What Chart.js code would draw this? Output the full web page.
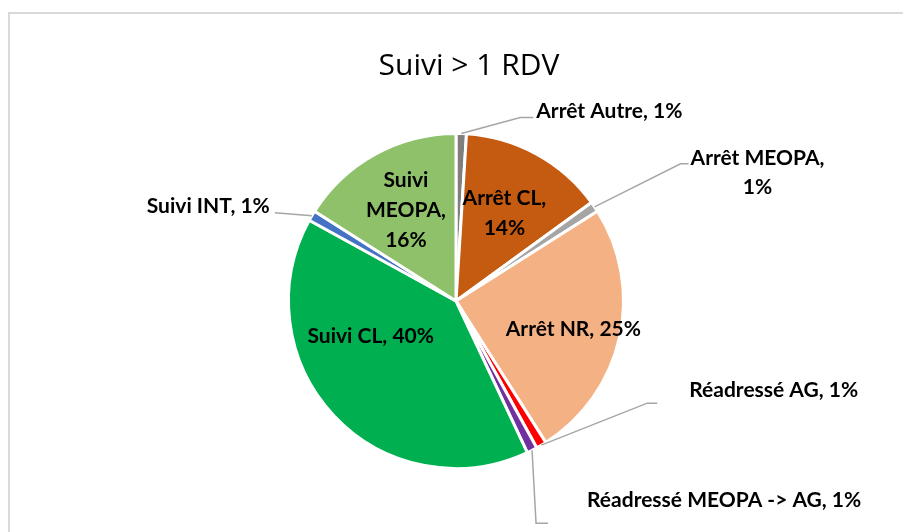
<!DOCTYPE html>
<html>
<head>
<meta charset="utf-8">
<script src="https://cdn.jsdelivr.net/npm/chart.js@4.4.0/dist/chart.umd.min.js"></script>
<style>
  html, body { margin: 0; padding: 0; background: #fff; }
  #wrap { position: relative; width: 903px; height: 532px; overflow: hidden; }
</style>
</head>
<body>
<div id="wrap"><canvas id="myChart" width="903" height="532"></canvas></div>
<script>
// données du graphique
var chartTitle = "Suivi > 1 RDV";
var categories = ["Arrêt Autre", "Arrêt CL", "Arrêt MEOPA", "Arrêt NR", "Réadressé AG",
                  "Réadressé MEOPA -> AG", "Suivi CL", "Suivi INT", "Suivi MEOPA"];
var values = [1, 14, 1, 25, 1, 1, 40, 1, 16];
var colors = ["#7F7F7F", "#C55A11", "#A5A5A5", "#F4B183", "#FF0000",
              "#7030A0", "#00B050", "#4472C4", "#8FC16A"];

// placement des étiquettes (par index de catégorie)
// inside: r = fraction du rayon, dx/dy = décalage ; outside: elbow = décalage depuis le bord, text = décalage depuis le coude
var labelLayout = [
    { out: true, elbow: [59, -16], tail: 13, text: [16, -6], align: "left", lines: null },
    { out: false, r: 0.6, dx: 0, dy: 0, lines: ["{c},", "{p}"] },
    { out: true, elbow: [86, -43], tail: 8, text: [77, -6], align: "center", lines: ["{c},", "{p}"] },
    { out: false, r: 0.62, dx: 16, dy: 6, lines: null },
    { out: true, elbow: [106, -42], tail: 10, text: [42, -13], align: "left", lines: null },
    { out: true, elbow: [4, 73], tail: 12, text: [51, -23], align: "left", lines: null },
    { out: false, r: 0.6, dx: -12, dy: -34, lines: null },
    { out: true, elbow: [-37, -3], tail: 0, text: [-5, -7], align: "right", lines: null },
    { out: false, r: 0.62, dx: 0, dy: 0, lines: ["Suivi", "MEOPA,", "{p}"] }
];

var labelFont = "bold 21px Lato";
var lineHeight = 30;

var total = values.reduce(function (a, b) { return a + b; }, 0);

function labelLines(i) {
    var pct = Math.round(values[i] / total * 100) + "%";
    var lay = labelLayout[i];
    if (!lay.lines) return [categories[i] + ", " + pct];
    return lay.lines.map(function (s) { return s.replace("{c}", categories[i]).replace("{p}", pct); });
}

var labelPlugin = {
    id: "pieLabels",
    beforeDraw: function (chart) {
        var ctx = chart.ctx;
        ctx.save();
        // cadre du graphique
        ctx.strokeStyle = "#D9D9D9";
        ctx.lineWidth = 2;
        ctx.strokeRect(9, 13, 1000, 1000);
        // titre
        ctx.fillStyle = "#000";
        ctx.font = "30px 'Open Sans'";
        ctx.textAlign = "center";
        ctx.textBaseline = "alphabetic";
        ctx.fillText(chartTitle, 469, 75);
        ctx.restore();
    },
    afterDatasetsDraw: function (chart) {
        var ctx = chart.ctx;
        var arcs = chart.getDatasetMeta(0).data;
        ctx.save();
        ctx.font = labelFont;
        ctx.fillStyle = "#000";
        ctx.textBaseline = "middle";
        arcs.forEach(function (arc, i) {
            var p = arc.getProps(["x", "y", "startAngle", "endAngle", "outerRadius"], true);
            var mid = (p.startAngle + p.endAngle) / 2;
            var lay = labelLayout[i];
            var lines = labelLines(i);
            if (!lay.out) {
                var rr = p.outerRadius * lay.r;
                var cx = p.x + Math.cos(mid) * rr + lay.dx;
                var cy = p.y + Math.sin(mid) * rr + lay.dy;
                ctx.textAlign = "center";
                var y0 = cy - (lines.length - 1) * lineHeight / 2;
                lines.forEach(function (l, k) { ctx.fillText(l, cx, y0 + k * lineHeight); });
                return;
            }
            // ligne de rappel
            var ex = p.x + Math.cos(mid) * p.outerRadius;
            var ey = p.y + Math.sin(mid) * p.outerRadius;
            var bx = ex + lay.elbow[0], by = ey + lay.elbow[1];
            var dir = lay.elbow[0] >= 0 ? 1 : -1;
            ctx.strokeStyle = "#A6A6A6";
            ctx.lineWidth = 1.5;
            ctx.beginPath();
            ctx.moveTo(ex, ey);
            ctx.lineTo(bx, by);
            ctx.lineTo(bx + dir * lay.tail, by);
            ctx.stroke();
            ctx.textAlign = lay.align;
            var tx = bx + lay.text[0], ty = by + lay.text[1];
            lines.forEach(function (l, k) { ctx.fillText(l, tx, ty + k * 29); });
        });
        ctx.restore();
    }
};

var ctx = document.getElementById("myChart").getContext("2d");
var myChart = new Chart(ctx, {
    type: "pie",
    data: {
        labels: categories,
        datasets: [{
            data: values,
            backgroundColor: colors,
            borderColor: "#FFFFFF",
            borderWidth: 3
        }]
    },
    options: {
        responsive: false,
        animation: false,
        layout: { padding: { left: 287, right: 278, top: 132, bottom: 62 } },
        plugins: {
            legend: { display: false },
            tooltip: { enabled: false },
            title: { display: false }
        }
    },
    plugins: [labelPlugin]
});
</script>
</body>
</html>
